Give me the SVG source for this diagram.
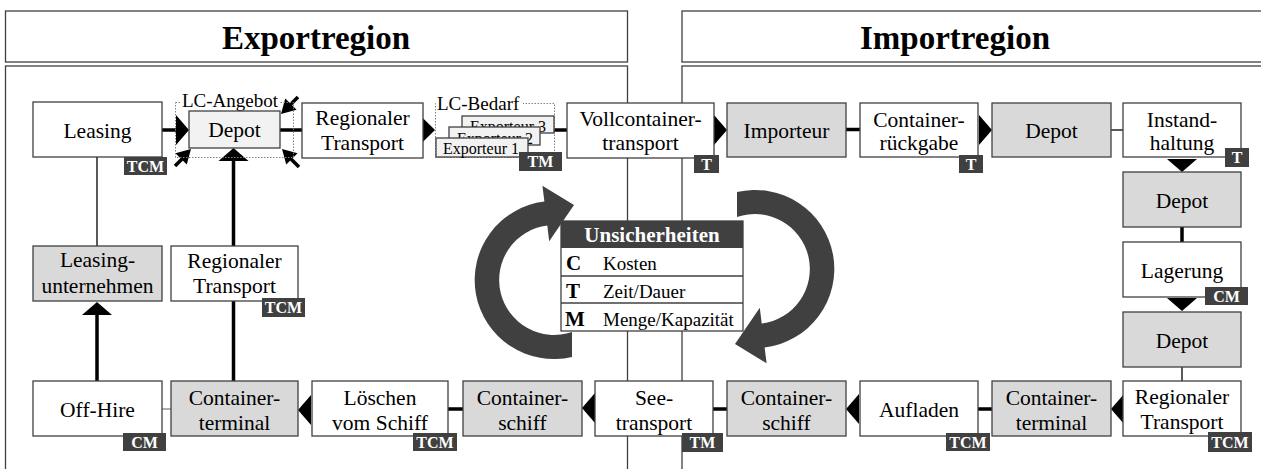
<svg xmlns="http://www.w3.org/2000/svg" xmlns:xlink="http://www.w3.org/1999/xlink" width="1261" height="469" viewBox="0 0 1261 469">
<style>
.reg{fill:#fff;stroke:#404040;stroke-width:1.3}
.box{stroke:#404040;stroke-width:1.3}
.w{fill:#fff}.g{fill:#d9d9d9}.lg{fill:#f2f2f2}
.t{font-family:'Liberation Serif','Times New Roman',serif;font-size:21.5px;text-anchor:middle;fill:#000}
.h{font-family:'Liberation Serif','Times New Roman',serif;font-size:33px;font-weight:bold;text-anchor:middle;fill:#000}
.bd rect{fill:#404040}
.bd text{font-family:'Liberation Serif','Times New Roman',serif;font-size:16px;font-weight:bold;fill:#fff;text-anchor:middle}
.thick{stroke:#000;stroke-width:3.5;fill:none}
.thin{stroke:#000;stroke-width:1.3;fill:none}
.dot{fill:none;stroke:#808080;stroke-width:1;stroke-dasharray:1.5 1.5}
.lbl{font-family:'Liberation Serif','Times New Roman',serif;font-size:19px;fill:#000}
.exp{font-family:'Liberation Serif','Times New Roman',serif;font-size:16px;fill:#000}
.ah{fill:#000}
.curv{fill:#404040}
</style>
<defs>
<path id="ah" d="M-13,-15 L0,0 L-13,15 Z"/>
<path id="ahs" d="M-14,-8 L0,0 L-14,8 Z"/>
</defs>

<g id="regions">
<rect class="reg" x="5.5" y="11" width="622" height="51"/>
<text class="h" x="316" y="49">Exportregion</text>
<rect class="reg" x="5.5" y="66" width="622" height="420"/>
<rect class="reg" x="682" y="11" width="600" height="51"/>
<text class="h" x="955" y="49" font-size="32">Importregion</text>
<rect class="reg" x="682" y="66" width="600" height="420"/>
</g>

<g id="cycle-arrows">
<path id="carrow" class="curv" d="M572,356.9 A79,79 0 1 1 544.4,201.6 L542.4,185.7 L574,205 L549.2,241.3 L547.3,225.4 A55,55 0 1 0 572,332 Z"/>
<use xlink:href="#carrow" href="#carrow" transform="rotate(180 654.5 274.5)"/>
</g>

<g id="connectors">
<line class="thick" x1="162" y1="130" x2="177" y2="130"/>
<use href="#ah" class="ah" transform="translate(189 130)"/>
<line class="thick" x1="280" y1="130" x2="302" y2="130"/>
<use href="#ah" class="ah" transform="translate(435 130) scale(1 0.85)"/>
<line class="thick" x1="554" y1="130" x2="567" y2="130"/>
<use href="#ah" class="ah" transform="translate(727 130)"/>
<line class="thick" x1="846" y1="129.5" x2="860" y2="129.5"/>
<use href="#ah" class="ah" transform="translate(992 130)"/>
<line class="thin" x1="1111" y1="130" x2="1123" y2="130"/>
<use href="#ah" class="ah" transform="translate(1182 172) rotate(90)"/>
<line class="thick" x1="1182" y1="227" x2="1182" y2="242"/>
<use href="#ah" class="ah" transform="translate(1182 311) rotate(90)"/>
<line class="thin" x1="1182" y1="367" x2="1182" y2="381"/>
<use href="#ah" class="ah" transform="translate(1111 409) rotate(180)"/>
<line class="thick" x1="978" y1="409" x2="992" y2="409"/>
<use href="#ah" class="ah" transform="translate(846 409) rotate(180)"/>
<line class="thick" x1="713" y1="409" x2="727" y2="409"/>
<use href="#ah" class="ah" transform="translate(582 408) rotate(180)"/>
<line class="thick" x1="448" y1="409" x2="463" y2="409"/>
<use href="#ah" class="ah" transform="translate(298 410) rotate(180)"/>
<line x1="162" y1="409" x2="171" y2="409" stroke="#808080" stroke-width="1.3"/>
<line class="thick" x1="97" y1="381" x2="97" y2="314"/>
<use href="#ah" class="ah" transform="translate(97 302) rotate(-90)"/>
<line class="thin" x1="97" y1="157" x2="97" y2="246"/>
<line class="thick" x1="233.5" y1="381" x2="233.5" y2="160"/>
<use href="#ah" class="ah" transform="translate(233.5 148) rotate(-90)"/>
<line class="thick" x1="298" y1="97" x2="290" y2="105" stroke-width="2.5"/>
<use href="#ahs" class="ah" transform="translate(281 114) rotate(135)"/>
<line class="thick" x1="175" y1="166" x2="183" y2="158" stroke-width="2.5"/>
<use href="#ahs" class="ah" transform="translate(191 149) rotate(-45)"/>
<line class="thick" x1="299" y1="167" x2="291" y2="159" stroke-width="2.5"/>
<use href="#ahs" class="ah" transform="translate(282 149) rotate(-135)"/>
</g>

<g id="lc-angebot">
<rect class="dot" x="175.5" y="102.5" width="118" height="55"/>
<rect x="181" y="92" width="98" height="16" fill="#fff"/>
<text class="lbl" x="182" y="107">LC-Angebot</text>
</g>
<g id="n-leasing"><rect class="box w" x="33" y="102" width="129" height="55"/><text class="t" x="97.5" y="137.5">Leasing</text></g>
<g id="n-depot-export"><rect class="box lg" x="189" y="111" width="91" height="37"/><text class="t" x="234.5" y="137">Depot</text></g>
<g id="n-regtrans-1"><rect class="box w" x="302" y="103" width="121" height="55"/><text class="t" x="362.5" y="125">Regionaler</text><text class="t" x="362.5" y="150">Transport</text></g>
<g id="lc-bedarf">
<rect class="dot" x="435.5" y="103.5" width="119" height="54"/>
<rect x="436" y="94" width="87" height="17" fill="#fff"/>
<text class="lbl" x="437" y="110">LC-Bedarf</text>
<rect class="box lg" x="462" y="116" width="92" height="17" stroke="#808080"/>
<text class="exp" x="470" y="132">Exporteur 3</text>
<rect class="box lg" x="449" y="127" width="91" height="18"/>
<text class="exp" x="457" y="144">Exporteur 2</text>
<rect class="box lg" x="436" y="138" width="92" height="19"/>
<text class="exp" x="443" y="154">Exporteur 1</text>
</g>
<g id="n-vollcontainer"><rect class="box w" x="567" y="103" width="147" height="55"/><text class="t" x="640.5" y="126">Vollcontainer-</text><text class="t" x="640.5" y="150">transport</text></g>
<g id="n-importeur"><rect class="box g" x="727" y="103" width="119" height="54"/><text class="t" x="786.5" y="138">Importeur</text></g>
<g id="n-rueckgabe"><rect class="box w" x="860" y="103" width="118" height="54"/><text class="t" x="919" y="126.5">Container-</text><text class="t" x="919" y="150">rückgabe</text></g>
<g id="n-depot-import"><rect class="box g" x="992" y="103" width="119" height="54"/><text class="t" x="1051.5" y="138">Depot</text></g>
<g id="n-instand"><rect class="box w" x="1123" y="103" width="118" height="54"/><text class="t" x="1182" y="126.5">Instand-</text><text class="t" x="1182" y="150">haltung</text></g>
<g id="n-depot-2"><rect class="box g" x="1123" y="172" width="118" height="55"/><text class="t" x="1182" y="207.5">Depot</text></g>
<g id="n-lagerung"><rect class="box w" x="1123" y="242" width="118" height="55"/><text class="t" x="1182" y="277.5">Lagerung</text></g>
<g id="n-depot-3"><rect class="box g" x="1123" y="312" width="118" height="55"/><text class="t" x="1182" y="347.5">Depot</text></g>
<g id="n-regtrans-2"><rect class="box w" x="1123" y="381" width="118" height="55"/><text class="t" x="1182" y="403.5">Regionaler</text><text class="t" x="1182" y="428.5">Transport</text></g>
<g id="n-terminal-2"><rect class="box g" x="992" y="381" width="119" height="55"/><text class="t" x="1051.5" y="404.5">Container-</text><text class="t" x="1051.5" y="429.5">terminal</text></g>
<g id="n-aufladen"><rect class="box w" x="860" y="381" width="118" height="55"/><text class="t" x="919" y="416.5">Aufladen</text></g>
<g id="n-schiff-2"><rect class="box g" x="727" y="381" width="119" height="55"/><text class="t" x="786.5" y="404.5">Container-</text><text class="t" x="786.5" y="429.5">schiff</text></g>
<g id="n-see"><rect class="box w" x="595" y="381" width="118" height="55"/><text class="t" x="654" y="404.5">See-</text><text class="t" x="654" y="429.5">transport</text></g>
<g id="n-schiff-1"><rect class="box g" x="463" y="381" width="119" height="55"/><text class="t" x="522.5" y="404.5">Container-</text><text class="t" x="522.5" y="429.5">schiff</text></g>
<g id="n-loeschen"><rect class="box w" x="312" y="381" width="136" height="55"/><text class="t" x="380" y="404.5">Löschen</text><text class="t" x="380" y="429.5">vom Schiff</text></g>
<g id="n-terminal-1"><rect class="box g" x="171" y="381" width="127" height="55"/><text class="t" x="234.5" y="404.5">Container-</text><text class="t" x="234.5" y="429.5">terminal</text></g>
<g id="n-offhire"><rect class="box w" x="33" y="381" width="129" height="55"/><text class="t" x="97.5" y="417">Off-Hire</text></g>
<g id="n-leasingunternehmen"><rect class="box g" x="33" y="246" width="129" height="55"/><text class="t" x="97.5" y="267">Leasing-</text><text class="t" x="97.5" y="293">unternehmen</text></g>
<g id="n-regtrans-3"><rect class="box w" x="171" y="246" width="127" height="55"/><text class="t" x="234.5" y="268">Regionaler</text><text class="t" x="234.5" y="293">Transport</text></g>

<g id="unsicherheiten">
<rect x="561" y="221" width="182" height="110" fill="#fff" stroke="#404040" stroke-width="1.3"/>
<rect x="561" y="221" width="182" height="27" fill="#404040"/>
<text x="652" y="242" font-family="'Liberation Serif','Times New Roman',serif" font-size="21" font-weight="bold" fill="#fff" text-anchor="middle">Unsicherheiten</text>
<line x1="561" y1="276" x2="743" y2="276" stroke="#404040" stroke-width="1.3"/>
<line x1="561" y1="303" x2="743" y2="303" stroke="#404040" stroke-width="1.3"/>
<g font-family="'Liberation Serif','Times New Roman',serif" font-size="21" font-weight="bold">
<text x="566" y="270">C</text><text x="566" y="298">T</text><text x="565" y="326">M</text>
</g>
<g class="lbl">
<text x="603" y="270">Kosten</text><text x="603" y="298">Zeit/Dauer</text><text x="603" y="326">Menge/Kapazität</text>
</g>
</g>

<g id="badges" class="bd">
<rect x="124" y="157" width="43" height="18"/><text x="145.5" y="171.5">TCM</text>
<rect x="519" y="152" width="43" height="19"/><text x="540.5" y="167">TM</text>
<rect x="694" y="155" width="25" height="18"/><text x="706.5" y="169.5">T</text>
<rect x="959" y="155" width="24" height="18"/><text x="971" y="169.5">T</text>
<rect x="1225" y="148" width="24" height="19"/><text x="1237" y="163">T</text>
<rect x="1205" y="287" width="43" height="18"/><text x="1226.5" y="301.5">CM</text>
<rect x="1208" y="432" width="44" height="20"/><text x="1230" y="447.5">TCM</text>
<rect x="946" y="433" width="44" height="18"/><text x="968" y="447.5">TCM</text>
<rect x="682" y="433" width="41" height="19"/><text x="702.5" y="448">TM</text>
<rect x="413" y="433" width="44" height="18"/><text x="435" y="447.5">TCM</text>
<rect x="123" y="433" width="43" height="18"/><text x="144.5" y="447.5">CM</text>
<rect x="262" y="298" width="43" height="19"/><text x="283.5" y="313">TCM</text>
</g>
</svg>
